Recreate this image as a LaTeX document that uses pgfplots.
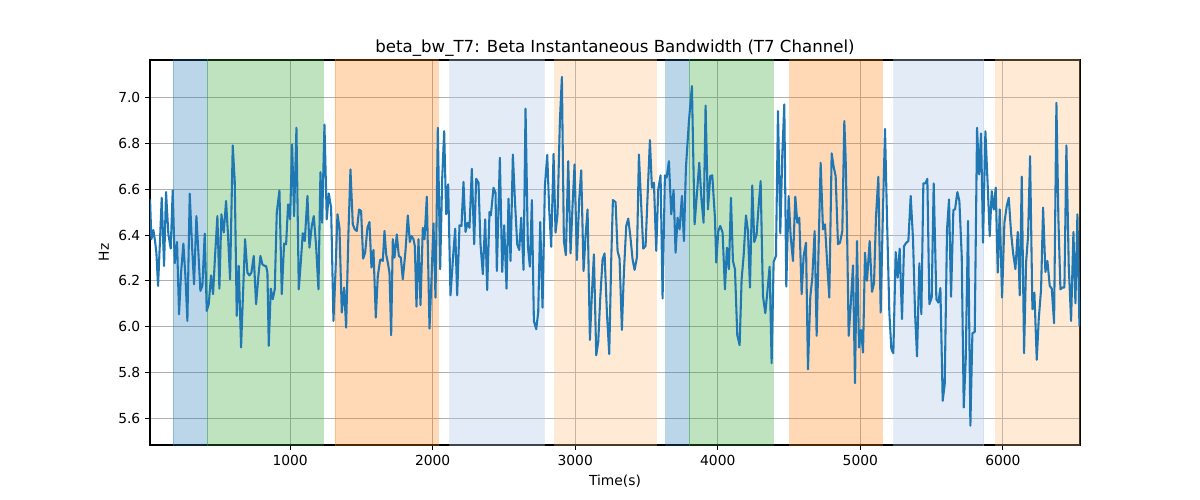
\documentclass[border=0pt]{standalone}
\usepackage{pgfplots}
\pgfplotsset{compat=1.18}
\usepackage{fontspec}
\setmainfont{DejaVu Sans}
\definecolor{tabblue}{HTML}{1F77B4}
\definecolor{tabgreen}{HTML}{2CA02C}
\definecolor{taborange}{HTML}{FF7F0E}
\definecolor{ltblue}{HTML}{AEC7E8}
\definecolor{ltorange}{HTML}{FFBB78}
\definecolor{gridgray}{HTML}{B0B0B0}
\begin{document}
\begin{tikzpicture}
\path[use as bounding box] (-1.5in,-0.55in) rectangle (10.5in,4.45in);
\begin{axis}[
  at={(0,0)}, anchor=south west,
  scale only axis, width=9.3in, height=3.85in,
  xmin=17, xmax=6541, ymin=5.483, ymax=7.165,
  xtick={1000,2000,3000,4000,5000,6000},
  ytick={5.6,5.8,6.0,6.2,6.4,6.6,6.8,7.0},
  yticklabel style={/pgf/number format/.cd, fixed, fixed zerofill, precision=1},
  xticklabel style={/pgf/number format/.cd, 1000 sep={}},
  /pgf/number format/assume math mode=true,
  tick align=outside, tick pos=left,
  major tick length=3.5pt,
  every tick/.style={black, line width=0.8pt},
  grid=major, grid style={gridgray, line width=0.8pt},
  axis line style={black, line width=0.8pt},
  tick label style={font=\fontsize{10}{12}\selectfont},
  label style={font=\fontsize{10}{12}\selectfont},
  title style={font=\fontsize{12}{14}\selectfont, yshift=-7pt},
  title={beta\_bw\_T7: Beta Instantaneous Bandwidth (T7 Channel)},
  xlabel={Time(s)}, ylabel={Hz},
  spanstyle/.style={forget plot, draw=#1, draw opacity=0.3, fill=#1, fill opacity=0.3},
]
\addplot[spanstyle=tabblue] coordinates {(180,5.3) (180,7.3) (418,7.3) (418,5.3)} -- cycle;
\addplot[spanstyle=tabgreen] coordinates {(418,5.3) (418,7.3) (1232,7.3) (1232,5.3)} -- cycle;
\addplot[spanstyle=taborange] coordinates {(1318,5.3) (1318,7.3) (2036,7.3) (2036,5.3)} -- cycle;
\addplot[spanstyle=ltblue, fill opacity=0.35] coordinates {(2118,5.3) (2118,7.3) (2783,7.3) (2783,5.3)} -- cycle;
\addplot[spanstyle=ltorange] coordinates {(2855,5.3) (2855,7.3) (3569,7.3) (3569,5.3)} -- cycle;
\addplot[spanstyle=tabblue] coordinates {(3634,5.3) (3634,7.3) (3797,7.3) (3797,5.3)} -- cycle;
\addplot[spanstyle=tabgreen] coordinates {(3797,5.3) (3797,7.3) (4390,7.3) (4390,5.3)} -- cycle;
\addplot[spanstyle=taborange] coordinates {(4504,5.3) (4504,7.3) (5155,7.3) (5155,5.3)} -- cycle;
\addplot[spanstyle=ltblue, fill opacity=0.35] coordinates {(5234,5.3) (5234,7.3) (5864,7.3) (5864,5.3)} -- cycle;
\addplot[spanstyle=ltorange] coordinates {(5950,5.3) (5950,7.3) (6700,7.3) (6700,5.3)} -- cycle;
\addplot[tabblue, line width=1.5pt, line join=round, mark=none] table {
17.3 6.556
26.7 6.382
40.7 6.422
52.4 6.374
61.8 6.323
73.5 6.178
87.5 6.382
99.2 6.563
115.6 6.265
129.6 6.588
146 6.403
162.3 6.341
176.4 6.595
190.4 6.277
206.8 6.370
220.8 6.054
234.9 6.236
251.2 6.363
265.3 6.221
279.3 6.025
295.7 6.581
312 6.352
326.1 6.185
342.5 6.483
356.5 6.323
370.5 6.156
384.6 6.178
400.9 6.406
415 6.069
429 6.098
445.4 6.224
459.4 6.142
473.4 6.309
489.8 6.483
503.8 6.166
517.9 6.491
534.3 6.411
550.6 6.549
564.7 6.396
578.7 6.207
597.4 6.792
611.4 6.636
625.5 6.047
639.5 6.265
655.9 5.909
669.9 6.149
684 6.382
700.3 6.236
714.4 6.224
728.4 6.236
744.8 6.309
761.1 6.098
777.5 6.221
791.6 6.309
805.6 6.272
822 6.265
831.4 6.265
840.8 6.236
850.1 5.916
864.2 6.166
878.2 6.120
892.2 6.163
906.3 6.498
925 6.595
941.4 6.142
957.7 6.363
971.8 6.360
985.8 6.534
999.8 6.469
1013.9 6.796
1027.9 6.483
1044.3 6.869
1060.6 6.163
1074.7 6.280
1088.7 6.408
1102.7 6.374
1121.5 6.571
1135.5 6.345
1151.9 6.440
1165.9 6.483
1182.3 6.352
1198.7 6.163
1212.7 6.675
1224.4 6.454
1240.8 6.883
1257.1 6.469
1271.2 6.582
1287.5 6.520
1303.9 6.025
1318 6.236
1332 6.491
1346 6.432
1362.4 6.062
1378.8 6.171
1392.8 5.996
1409.2 6.411
1423.2 6.687
1439.6 6.447
1453.6 6.425
1467.6 6.418
1484 6.512
1498 6.505
1512.1 6.297
1526.1 6.323
1542.5 6.432
1556.5 6.457
1570.6 6.258
1584.6 6.335
1601 6.040
1615 6.221
1631.4 6.291
1638.5 6.294
1650.2 6.287
1661.9 6.418
1673.6 6.316
1685.3 6.280
1697 6.236
1708.7 5.963
1720.4 6.382
1732.1 6.302
1748.4 6.403
1762.5 6.309
1776.5 6.302
1790.5 6.207
1809.3 6.331
1825.6 6.486
1839.7 6.370
1851.3 6.396
1865.4 6.382
1874.7 6.352
1886.4 6.088
1900.5 6.382
1914.5 6.094
1930.9 6.432
1942.6 6.382
1959 6.568
1977.7 5.992
1991.7 6.207
2005.7 6.451
2019.8 6.127
2036.1 6.869
2052.5 6.251
2066.5 6.643
2080.6 6.854
2094.6 6.491
2108.6 6.622
2125 6.137
2143.7 6.309
2157.8 6.428
2171.8 6.137
2188.2 6.443
2202.2 6.440
2216.2 6.632
2230.3 6.414
2244.3 6.454
2258.3 6.432
2274.7 6.690
2291.1 6.360
2305.1 6.646
2321.5 6.629
2335.5 6.360
2351.9 6.229
2368.3 6.469
2382.3 6.160
2398.7 6.501
2408 6.486
2426.8 6.607
2440.8 6.585
2450.1 6.243
2471.3 6.738
2487.7 6.239
2501.7 6.443
2518.1 6.166
2532.1 6.559
2546.2 6.287
2562.5 6.752
2576.6 6.556
2593 6.360
2607 6.335
2621 6.476
2637.4 6.248
2651.4 6.952
2667.8 6.352
2681.8 6.262
2695.9 6.553
2709.9 6.025
2726.3 5.989
2740.3 6.062
2754.3 6.457
2770.7 6.083
2787.1 6.614
2803.5 6.750
2817.5 6.512
2831.5 6.349
2847.9 6.755
2862 6.411
2876 6.491
2892.3 6.898
2906.4 7.091
2920.4 6.374
2934.4 6.312
2950.8 6.723
2967.2 6.320
2981.2 6.530
2995.3 6.709
3011.6 6.291
3028 6.556
3042 6.683
3058.4 6.243
3072.5 6.396
3086.5 6.512
3102.9 5.942
3116.9 6.142
3131 6.316
3147.3 5.875
3161.4 5.934
3175.4 6.123
3191.8 6.294
3205.8 6.320
3222.2 6.062
3238.6 5.880
3252.6 6.294
3264.3 6.553
3283 6.544
3297 6.331
3311 6.297
3327.4 5.986
3341.4 6.236
3357.8 6.440
3371.9 6.472
3385.9 6.399
3402.3 6.294
3416.3 6.248
3432.7 6.302
3446.7 6.752
3463.1 6.527
3477.1 6.341
3493.5 6.352
3509.9 6.607
3523.9 6.815
3537.9 6.607
3552 6.629
3568.3 6.331
3582.4 6.600
3598.7 6.661
3612.8 6.123
3629.1 6.661
3640.8 6.651
3657.2 6.723
3673.6 6.491
3690 6.597
3704 6.323
3718 6.476
3732.1 6.425
3748.4 6.571
3762.5 6.374
3776.5 6.694
3797.6 6.898
3818.6 7.051
3837.3 6.447
3856.1 6.600
3870.1 6.716
3886.4 6.549
3900.5 6.454
3914.5 6.966
3930.9 6.512
3947.3 6.658
3961.3 6.661
3980 6.476
3989.4 6.280
4003.4 6.418
4017.4 6.440
4033.8 6.411
4050.2 6.163
4064.2 6.345
4078.2 6.251
4092.4 6.563
4106.4 6.287
4120.5 6.251
4136.8 5.963
4153.2 5.919
4167.2 6.207
4181.3 6.309
4197.6 6.486
4211.7 6.418
4225.7 6.171
4242.1 6.617
4256.1 6.370
4272.5 6.403
4286.5 6.527
4300.6 6.636
4316.9 6.134
4333.3 6.059
4347.3 6.149
4363.7 6.262
4377.7 5.840
4391.8 6.283
4408.2 6.309
4422.2 6.942
4438.6 6.408
4452.6 6.752
4466.6 6.971
4480.7 6.175
4497 6.571
4511.1 6.396
4527.4 6.287
4543.8 6.568
4557.9 6.454
4571.9 6.476
4588.3 6.142
4602.3 6.309
4618.7 6.367
4632.7 5.814
4649.1 6.131
4663.1 6.214
4679.5 6.418
4693.5 5.960
4707.5 6.352
4721.6 6.716
4738 6.425
4752 6.447
4768.4 6.265
4782.4 6.127
4798.8 6.757
4812.8 6.699
4826.8 6.658
4843.2 6.360
4857.3 6.367
4873.6 6.418
4887.7 6.898
4897.1 6.731
4906.5 6.440
4918.2 5.960
4932.2 6.091
4948.6 6.268
4962.6 5.753
4976.7 6.374
4990.7 5.909
5004.7 5.986
5018.8 5.887
5032.8 6.323
5046.8 6.200
5065.5 6.374
5081.9 6.152
5096 6.190
5110 6.483
5126.4 6.655
5142.7 6.062
5156.8 6.454
5173.1 6.864
5187.2 6.469
5203.5 6.062
5217.6 5.902
5231.6 5.884
5248 6.326
5262 6.214
5276.1 6.341
5292.4 6.033
5306.5 6.352
5322.9 6.367
5336.9 6.374
5353.3 6.571
5369.6 6.382
5383.7 6.062
5397.7 5.870
5414.1 6.277
5428.1 6.054
5442.1 6.626
5456.2 6.626
5470.2 6.646
5484.2 6.098
5500.6 6.127
5514.6 6.626
5533.4 6.120
5547.4 6.105
5561.5 6.169
5577.8 5.676
5591.9 5.749
5608.2 6.425
5622.3 6.556
5636.3 6.131
5652.7 6.510
5664.4 6.512
5680.7 6.588
5694.8 6.549
5711.2 6.309
5725.3 5.647
5739.3 5.858
5755.7 6.462
5772 5.567
5786.1 5.971
5802.5 5.977
5818.8 6.869
5832.9 6.665
5846.9 6.844
5860.9 6.367
5877.3 6.854
5893.7 6.614
5907.7 6.396
5921.7 6.592
5935.8 6.512
5949.8 6.607
5963.9 6.236
5977.9 6.512
5994.3 6.127
6010.6 6.454
6027 6.527
6041.1 6.563
6057.4 6.411
6071.4 6.323
6087.8 6.251
6104.2 6.414
6118.2 6.137
6132.3 6.655
6148.6 5.884
6162.7 6.280
6176.7 6.396
6190.7 6.745
6207.1 6.076
6221.1 6.149
6237.5 5.855
6251.6 6.033
6267.9 6.163
6282 6.520
6298.3 6.239
6312.4 6.287
6328.7 6.178
6342.8 6.166
6359.1 6.015
6375.5 6.978
6389.5 6.469
6403.6 6.163
6417.6 6.171
6431.6 6.171
6445.7 6.792
6462 6.265
6478.4 6.025
6494.8 6.414
6508.8 6.102
6522.8 6.491
6536.9 6.003
};
\end{axis}
\end{tikzpicture}
\end{document}
